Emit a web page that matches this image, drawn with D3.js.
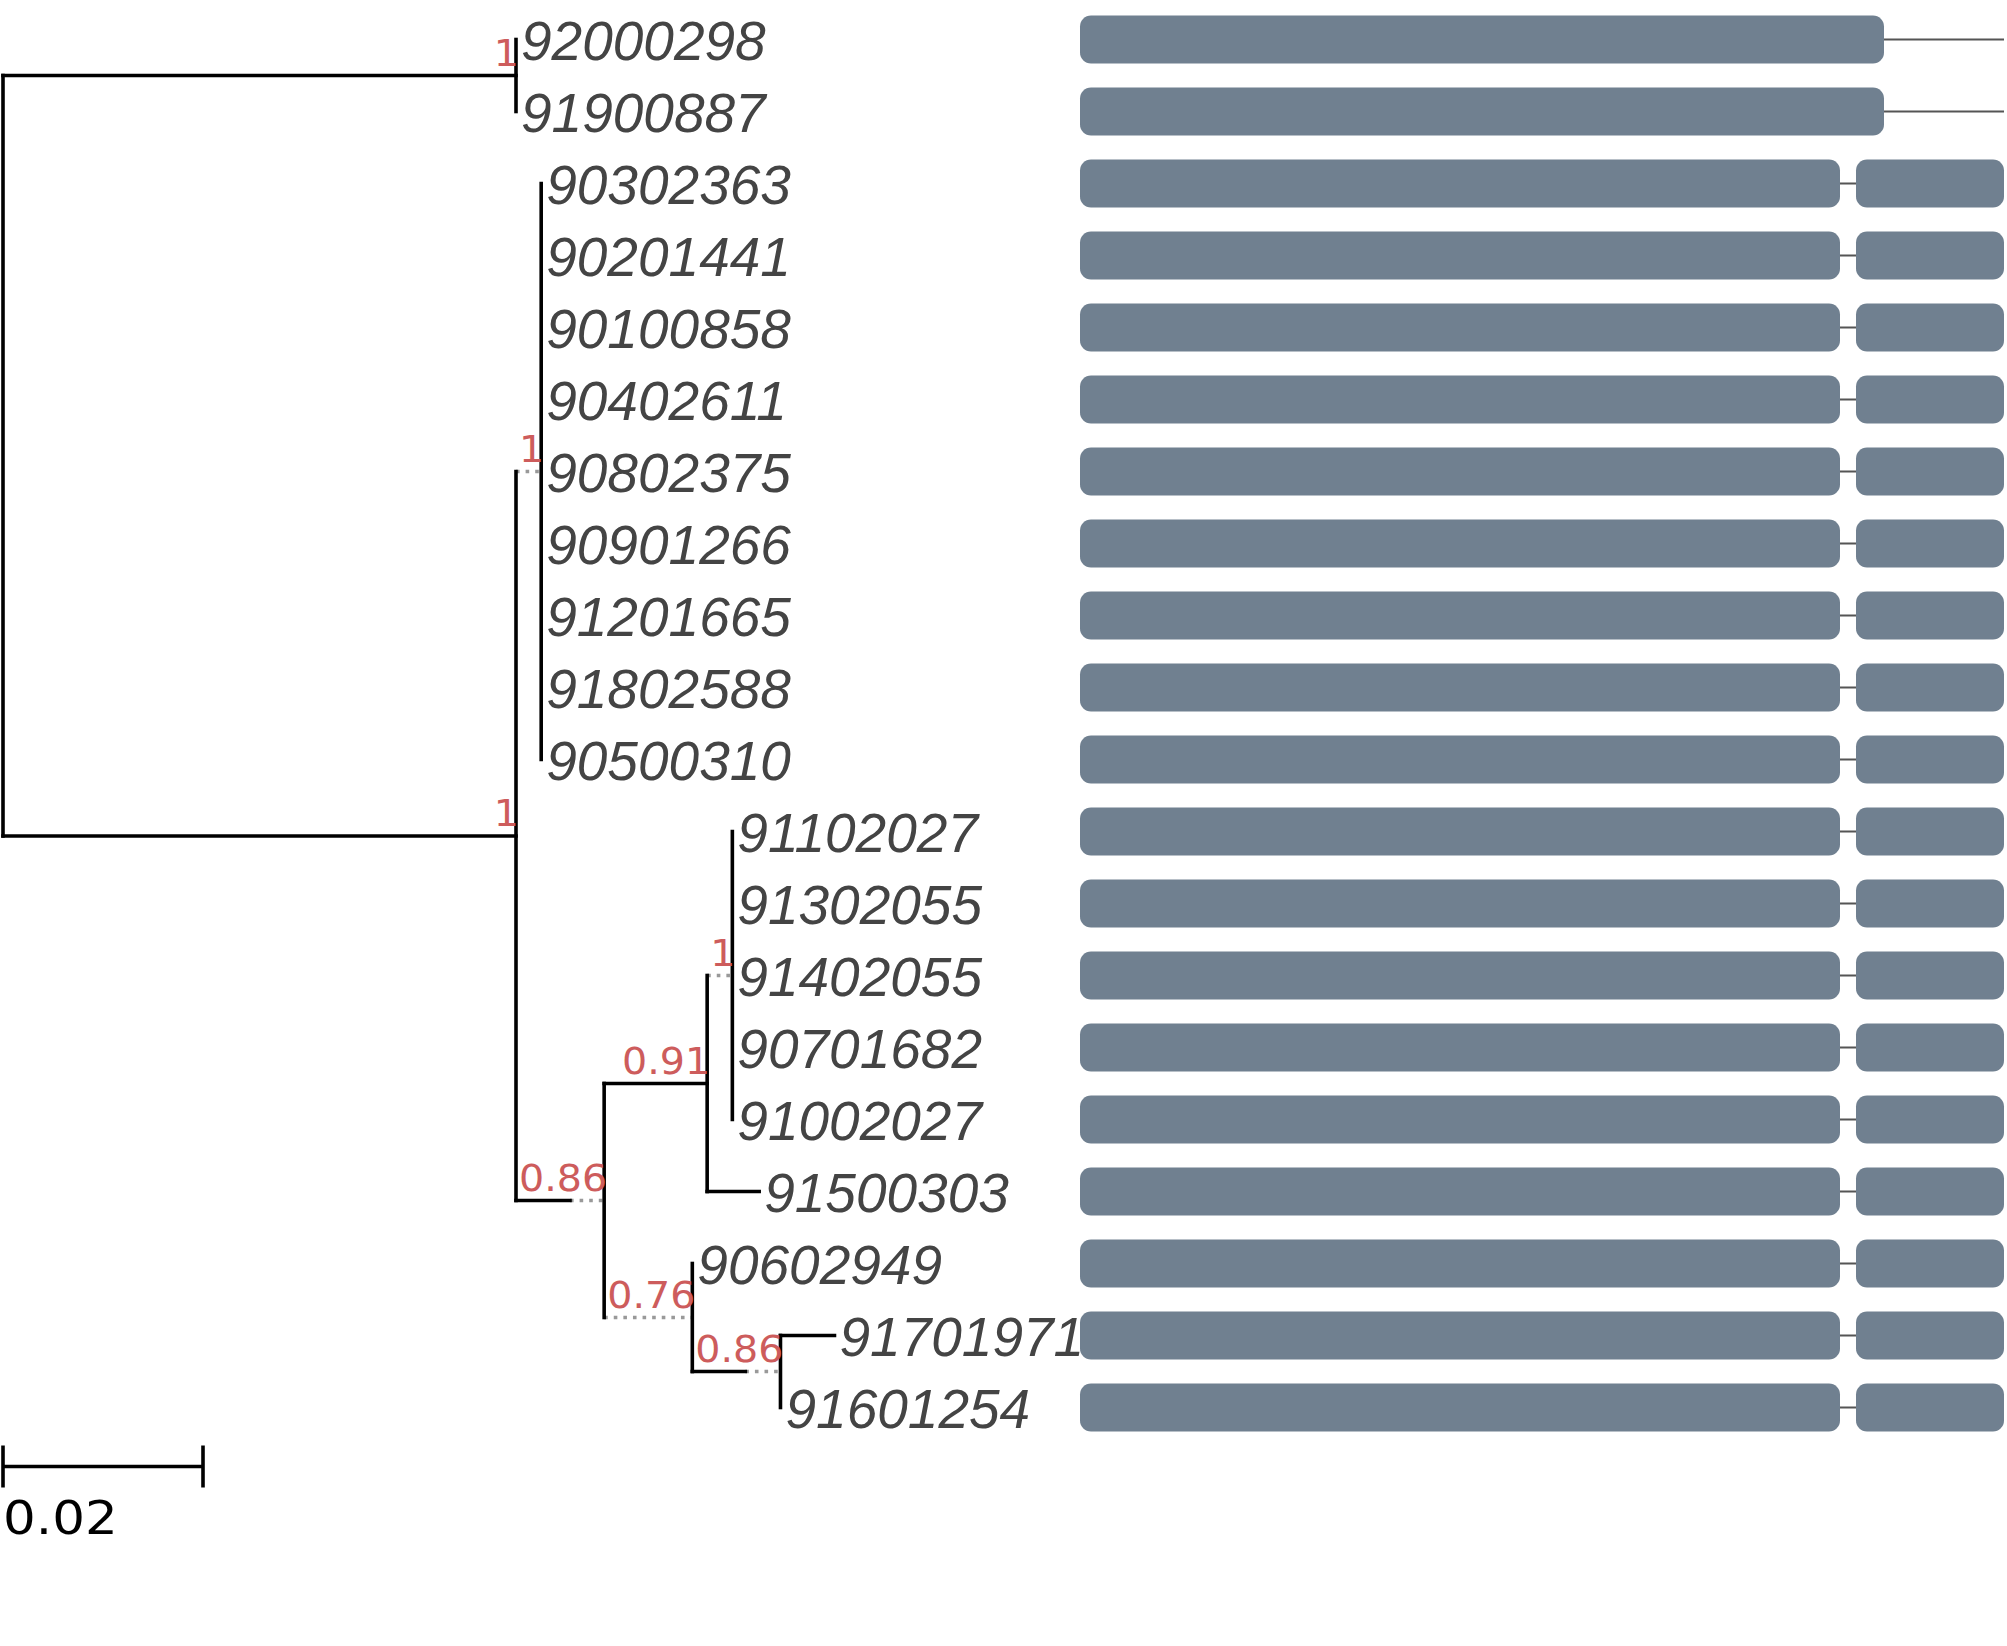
<!doctype html>
<html>
<head>
<meta charset="utf-8">
<script src="https://cdnjs.cloudflare.com/ajax/libs/d3/7.8.5/d3.min.js"></script>
<style>
  body { margin: 0; background: #fff; }
</style>
</head>
<body>
<svg width="2007" height="1646"></svg>
<script>
// internal nodes of the tree (preorder)
var nodeIds     = ["root", "n1", "n2", "n3", "n4", "n5", "n6", "n7", "n8"];
var nodeParents = [null, "root", "root", "n2", "n2", "n4", "n5", "n4", "n7"];
var nodeLengths = [0, 0.0513, 0.0513, 0, 0.0054, 0.0103, 0, 0, 0.0053];
var nodeSupport = [null, 1, 1, 1, 0.86, 0.91, 1, 0.76, 0.86];

// leaves, top to bottom
var tipNames = ["92000298", "91900887", "90302363", "90201441", "90100858",
  "90402611", "90802375", "90901266", "91201665", "91802588", "90500310",
  "91102027", "91302055", "91402055", "90701682", "91002027", "91500303",
  "90602949", "91701971", "91601254"];
var tipParents = ["n1", "n1", "n3", "n3", "n3", "n3", "n3", "n3", "n3", "n3", "n3",
  "n6", "n6", "n6", "n6", "n6", "n5", "n7", "n8", "n8"];
var tipLengths = [0, 0, 0, 0, 0, 0, 0, 0, 0, 0, 0,
  0, 0, 0, 0, 0, 0.0052, 0, 0.0054, 0];

// domain blocks along the alignment, one list per leaf
var seqLength = 924;
var blockRows = [
  [[0, 804]], [[0, 804]],
  [[0, 760], [776, 924]], [[0, 760], [776, 924]], [[0, 760], [776, 924]],
  [[0, 760], [776, 924]], [[0, 760], [776, 924]], [[0, 760], [776, 924]],
  [[0, 760], [776, 924]], [[0, 760], [776, 924]], [[0, 760], [776, 924]],
  [[0, 760], [776, 924]], [[0, 760], [776, 924]], [[0, 760], [776, 924]],
  [[0, 760], [776, 924]], [[0, 760], [776, 924]], [[0, 760], [776, 924]],
  [[0, 760], [776, 924]], [[0, 760], [776, 924]], [[0, 760], [776, 924]]
];

var scaleBarValue = 0.02;

var svg = d3.select("svg");
var supFont = 37, supStretch = 1.07, lineW = 3.6;

var rows = [];
nodeIds.forEach(function(id, i) {
  rows.push({id: id, parent: nodeParents[i], length: nodeLengths[i], support: nodeSupport[i], tip: -1});
});
tipNames.forEach(function(n, i) {
  rows.push({id: n, parent: tipParents[i], length: tipLengths[i], support: null, tip: i});
});

var root = d3.stratify().id(d => d.id).parentId(d => d.parent)(rows);
root.eachAfter(function(d) {
  d.minTip = d.children ? d3.min(d.children, c => c.minTip) : d.data.tip;
});
root.sort((a, b) => a.minTip - b.minTip);

var xTree = d3.scaleLinear().domain([0, scaleBarValue]).range([0, 200]);
var yRow = d3.scalePoint().domain(tipNames).range([39.5, 1407.5]);
var xSeq = d3.scaleLinear().domain([0, seqLength]).range([1080, 2004]);

// width of a support label, used to extend short branches
var probe = svg.append("text").style("font-family", "DejaVu Sans").style("font-size", supFont + "px");
function faceWidth(s) {
  if (s == null) return 0;
  probe.text(String(s));
  return probe.node().getComputedTextLength() * supStretch;
}

root.eachBefore(function(d) {
  if (!d.parent) { d.x = 3; return; }
  d.solid = xTree(d.data.length);
  d.x = d.parent.x + Math.max(d.solid, faceWidth(d.data.support));
});
root.eachAfter(function(d) {
  if (!d.children) d.y = yRow(d.data.id);
  else d.y = (d.children[0].y + d.children[d.children.length - 1].y) / 2;
});
probe.remove();

var tree = svg.append("g");
var nonRoot = root.descendants().filter(d => d.parent);

tree.selectAll(".ext").data(nonRoot.filter(d => d.x - d.parent.x > d.solid + 0.5))
  .enter().append("line")
  .attr("x1", d => d.parent.x + d.solid).attr("x2", d => d.x)
  .attr("y1", d => d.y).attr("y2", d => d.y)
  .attr("stroke", "#999").attr("stroke-width", lineW).attr("stroke-dasharray", "3.6,6");

tree.selectAll(".hz").data(nonRoot.filter(d => d.solid > 0))
  .enter().append("line")
  .attr("x1", d => d.parent.x).attr("x2", d => d.parent.x + d.solid)
  .attr("y1", d => d.y).attr("y2", d => d.y)
  .attr("stroke", "#000").attr("stroke-width", lineW).attr("stroke-linecap", "square");

tree.selectAll(".vt").data(root.descendants().filter(d => d.children))
  .enter().append("line")
  .attr("x1", d => d.x).attr("x2", d => d.x)
  .attr("y1", d => d.children[0].y).attr("y2", d => d.children[d.children.length - 1].y)
  .attr("stroke", "#000").attr("stroke-width", lineW).attr("stroke-linecap", "square");

tree.selectAll(".sup").data(nonRoot.filter(d => d.data.support != null))
  .enter().append("text")
  .attr("transform", d => "translate(" + (d.x + 3) + "," + (d.y - 10) + ") scale(" + supStretch + ",1)")
  .attr("text-anchor", "end")
  .style("font-family", "DejaVu Sans").style("font-size", supFont + "px")
  .attr("fill", "#cd5c5c")
  .text(d => d.data.support);

tree.selectAll(".tip").data(root.leaves())
  .enter().append("text")
  .attr("x", d => d.x + 5).attr("y", d => d.y + 20)
  .style("font-family", "Liberation Sans").style("font-style", "italic").style("font-size", "55px")
  .attr("fill", "#444")
  .text(d => d.data.id);

// alignment panel
var panel = svg.append("g").selectAll("g").data(tipNames).enter().append("g");
panel.append("line")
  .attr("x1", xSeq(0)).attr("x2", xSeq(seqLength))
  .attr("y1", d => yRow(d)).attr("y2", d => yRow(d))
  .attr("stroke", "#555").attr("stroke-width", 1.8);
panel.selectAll("rect").data((d, i) => blockRows[i].map(b => ({row: d, from: b[0], to: b[1]})))
  .enter().append("rect")
  .attr("x", b => xSeq(b.from)).attr("width", b => xSeq(b.to) - xSeq(b.from))
  .attr("y", b => yRow(b.row) - 24).attr("height", 48)
  .attr("rx", 11).attr("ry", 11)
  .attr("fill", "#708090");

// scale bar
var sbY = yRow(tipNames[tipNames.length - 1]) + 59;
var sb = svg.append("g").attr("stroke", "#000").attr("stroke-width", lineW);
sb.append("line").attr("x1", 3).attr("x2", 3 + xTree(scaleBarValue)).attr("y1", sbY).attr("y2", sbY);
sb.append("line").attr("x1", 3).attr("x2", 3).attr("y1", sbY - 21).attr("y2", sbY + 21);
sb.append("line").attr("x1", 3 + xTree(scaleBarValue)).attr("x2", 3 + xTree(scaleBarValue)).attr("y1", sbY - 21).attr("y2", sbY + 21);
svg.append("text")
  .attr("transform", "translate(3," + (sbY + 67) + ") scale(1.12,1)")
  .style("font-family", "DejaVu Sans").style("font-size", "46px")
  .attr("fill", "#000")
  .text(scaleBarValue);
</script>
</body>
</html>
